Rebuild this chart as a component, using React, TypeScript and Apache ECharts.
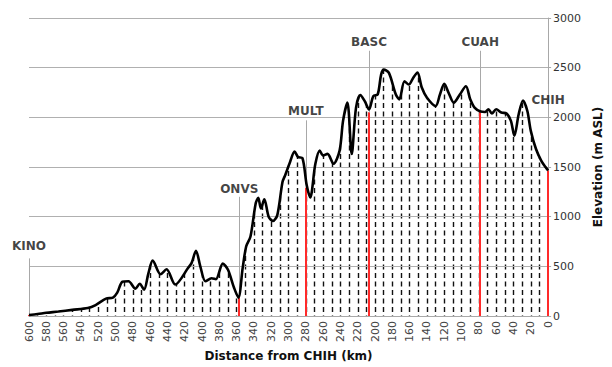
import React, { useEffect, useRef } from "react";
import * as echarts from "echarts";

const distanceKm = [
  600, 590, 580, 566, 550, 532, 523, 511, 503, 498, 492, 485, 477, 472, 467, 462, 457, 448, 441, 431,
  416, 412, 407, 402, 396, 389, 384, 376, 370, 363, 358, 353, 349, 344, 338, 335, 332, 328, 323, 318,
  313, 307, 304, 299, 293, 289, 284, 279, 275, 269, 264, 260, 255, 248, 241, 237, 232, 227, 222, 217,
  212, 207, 202, 197, 193, 190, 184, 176, 172, 166, 161, 156, 151, 146, 140, 130, 125, 120, 115, 109,
  102, 95, 90, 85, 78, 73, 69, 65, 60, 54, 48, 43, 39, 34, 29, 24, 20, 14, 8, 3, 0,
];
const elevationM = [
  10, 20, 32, 45, 62, 80, 110, 175, 185, 235, 345, 350, 275, 325, 265, 430, 557, 420, 470, 317,
  485, 535, 657, 500, 350, 380, 370, 527, 465, 284, 185, 484, 700, 800, 1133, 1190, 1083, 1175, 1000, 956,
  1016, 1349, 1415, 1532, 1655, 1600, 1590, 1316, 1193, 1532, 1665, 1615, 1632, 1532, 1665, 1964, 2148, 1632, 2098, 2224,
  2164, 2080, 2214, 2230, 2430, 2480, 2447, 2230, 2181, 2363, 2330, 2397, 2450, 2300, 2197, 2114, 2230, 2337, 2247, 2148,
  2230, 2313, 2181, 2098, 2058, 2054, 2081, 2038, 2081, 2048, 2038, 1964, 1815, 2031, 2170, 2064, 1864, 1681, 1565, 1499, 1465,
];

const siteNames = ["KINO", "ONVS", "MULT", "BASC", "CUAH", "CHIH"];
const siteKm = [600, 357, 280, 207, 78.5, 0];
const siteElev = [10, 190, 1290, 2050, 2050, 1465];
const siteLabelElev = [703, 1282, 2061, 2760, 2760, 2170];
const siteLineTop = [580, 1200, 1970, 2670, 2670, null];

const FONT = "DejaVu Sans";

export default function App() {
  const ref = useRef<HTMLDivElement>(null);
  useEffect(() => {
    if (!ref.current) return;
    const chart = echarts.init(ref.current, undefined, { renderer: "svg" });
    const profile = distanceKm.map((d, i) => [d, elevationM[i]]);
    const redLines = siteKm.map((k, i) => [
      { coord: [k, 0] },
      { coord: [k, siteElev[i]], lineStyle: { color: "#ff2a2a", width: 2, type: "solid" } },
    ]);
    const greyLines: any[] = [];
    siteKm.forEach((k, i) => {
      const top = siteLineTop[i];
      if (top == null) return;
      const bottom = i === 0 ? 0 : siteElev[i];
      greyLines.push([
        { coord: [k, bottom] },
        { coord: [k, top], lineStyle: { color: "#a8a8a8", width: 1, type: "solid" } },
      ]);
    });
    chart.setOption({
      animation: false,
      backgroundColor: "#fff",
      grid: { left: 29, right: 58, top: 18, bottom: 48.5 },
      xAxis: [
        {
          type: "value",
          min: 0,
          max: 600,
          interval: 20,
          inverse: true,
          position: "bottom",
          z: 2,
          name: "Distance from CHIH (km)",
          nameLocation: "middle",
          nameGap: 34,
          nameTextStyle: { fontFamily: FONT, fontWeight: "bold", fontSize: 12, color: "#111" },
          axisLine: { show: true, lineStyle: { color: "#a8a8a8", width: 1 } },
          axisTick: { show: false },
          axisLabel: { rotate: 90, fontFamily: FONT, fontSize: 11, color: "#444", margin: 5 },
          splitLine: { show: false },
        },
        {
          type: "value",
          min: 0,
          max: 600,
          interval: 10,
          inverse: true,
          position: "top",
          z: 0,
          axisLine: { show: false },
          axisTick: { show: false },
          axisLabel: { show: false },
          splitLine: {
            show: true,
            showMinLine: false,
            showMaxLine: false,
            lineStyle: { color: "#111", width: 1.4, type: [5, 3.5] },
          },
        },
      ],
      yAxis: {
        type: "value",
        position: "right",
        min: 0,
        max: 3000,
        interval: 500,
        z: 2,
        name: "Elevation (m ASL)",
        nameLocation: "middle",
        nameGap: 40,
        nameRotate: 90,
        nameTextStyle: { fontFamily: FONT, fontWeight: "bold", fontSize: 12, color: "#111" },
        axisLine: { show: true, lineStyle: { color: "#a8a8a8", width: 1 } },
        axisTick: { show: true, length: 3, lineStyle: { color: "#a8a8a8" } },
        axisLabel: {
          fontFamily: FONT,
          fontSize: 11,
          color: "#333",
          margin: 5,
          formatter: (v: number) => String(v),
        },
        splitLine: { show: true, lineStyle: { color: "#b0b0b0", width: 1.2 } },
      },
      series: [
        {
          type: "line",
          data: profile,
          smooth: 0.3,
          symbol: "none",
          silent: true,
          z: 1,
          lineStyle: { width: 0, opacity: 0 },
          areaStyle: { origin: "end", color: "#ffffff", opacity: 1 },
        },
        {
          type: "scatter",
          data: siteNames.map((n, i) => ({ name: n, value: [siteKm[i], siteLabelElev[i]] })),
          symbolSize: 0,
          clip: false,
          silent: true,
          z: 6,
          label: {
            show: true,
            position: "inside",
            formatter: "{b}",
            fontFamily: FONT,
            fontWeight: "bold",
            fontSize: 12,
            color: "#111",
          },
          markLine: {
            z: 3,
            silent: true,
            symbol: ["none", "none"],
            label: { show: false },
            lineStyle: { type: "solid" },
            data: [...redLines, ...greyLines],
          },
        },
        {
          type: "line",
          data: profile,
          smooth: 0.3,
          symbol: "none",
          silent: true,
          z: 5,
          lineStyle: { color: "#000", width: 2.6 },
        },
      ],
    });
    return () => chart.dispose();
  }, []);
  return (
    <div
      ref={ref}
      style={{ position: "fixed", left: 0, top: 0, width: 612, height: 367 }}
    />
  );
}
